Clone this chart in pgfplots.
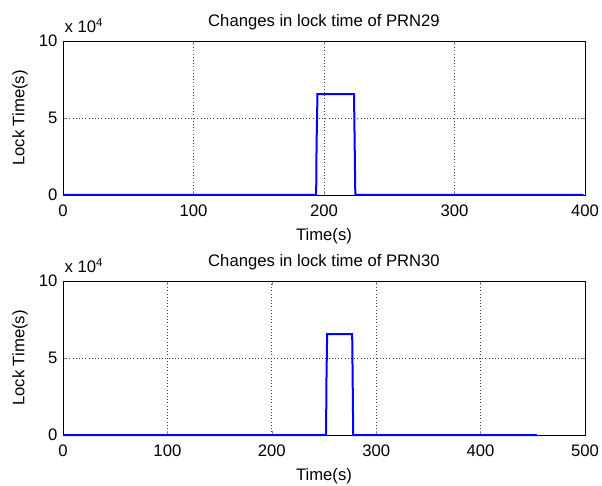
\documentclass[border=0pt]{standalone}
\usepackage{pgfplots}
\pgfplotsset{compat=1.18}
\usepackage{fontspec}
\setmainfont{Liberation Sans}
\begin{document}
\fontsize{12}{14}\selectfont
\begin{tikzpicture}[x=1pt,y=1pt]
\useasboundingbox (0,0) rectangle (451.5,363.75);
\pgfplotsset{
  every axis/.append style={
    scale only axis, width=391.5pt, height=115.5pt, clip=false,
    /pgf/number format/assume math mode=true,
    tick label style={font=\fontsize{12.5}{14}\selectfont},
    xticklabel style={yshift=-3pt},
    label style={font=\fontsize{12.5}{14}\selectfont},
    title style={font=\fontsize{12.5}{14}\selectfont, yshift=-2pt},
    ymin=0, ymax=10, ytick={0,5,10},
    grid=major, major grid style={black!75, dotted, line width=0.5pt},
    tick align=inside, major tick length=3pt,
    axis line style={line width=0.5pt},
    ylabel={Lock Time(s)}, xlabel={Time(s)},
    ylabel style={yshift=0pt},
    xlabel style={yshift=-1pt},
    xtick pos=both, ytick pos=both,
    y filter/.expression={y/10000},
  }
}
\begin{axis}[at={(47.25pt,217.5pt)}, anchor=south west,
  xmin=0, xmax=400, xtick={0,100,...,400},
  title={Changes in lock time of PRN29}]
\addplot[blue, line width=1.5pt, line join=miter] coordinates {
(0,0) (194,0) (194.3,32768) (195,65536) (223,65536) (223.5,32768) (224,0) (399,0)};
\node[anchor=base west, inner sep=1pt, font=\fontsize{12.5}{14}\selectfont] at ([yshift=6pt]rel axis cs:0,1) {x 10\raisebox{0.75ex}{\fontsize{8.5}{9}\selectfont 4}};
\end{axis}
\begin{axis}[at={(47.25pt,37.5pt)}, anchor=south west,
  xmin=0, xmax=500, xtick={0,100,...,500},
  title={Changes in lock time of PRN30}]
\addplot[blue, line width=1.5pt, line join=miter] coordinates {
(0,0) (252,0) (252.3,32768) (253,65536) (277,65536) (277.5,32768) (278,0) (454,0)};
\node[anchor=base west, inner sep=1pt, font=\fontsize{12.5}{14}\selectfont] at ([yshift=6pt]rel axis cs:0,1) {x 10\raisebox{0.75ex}{\fontsize{8.5}{9}\selectfont 4}};
\end{axis}
\end{tikzpicture}
\end{document}
